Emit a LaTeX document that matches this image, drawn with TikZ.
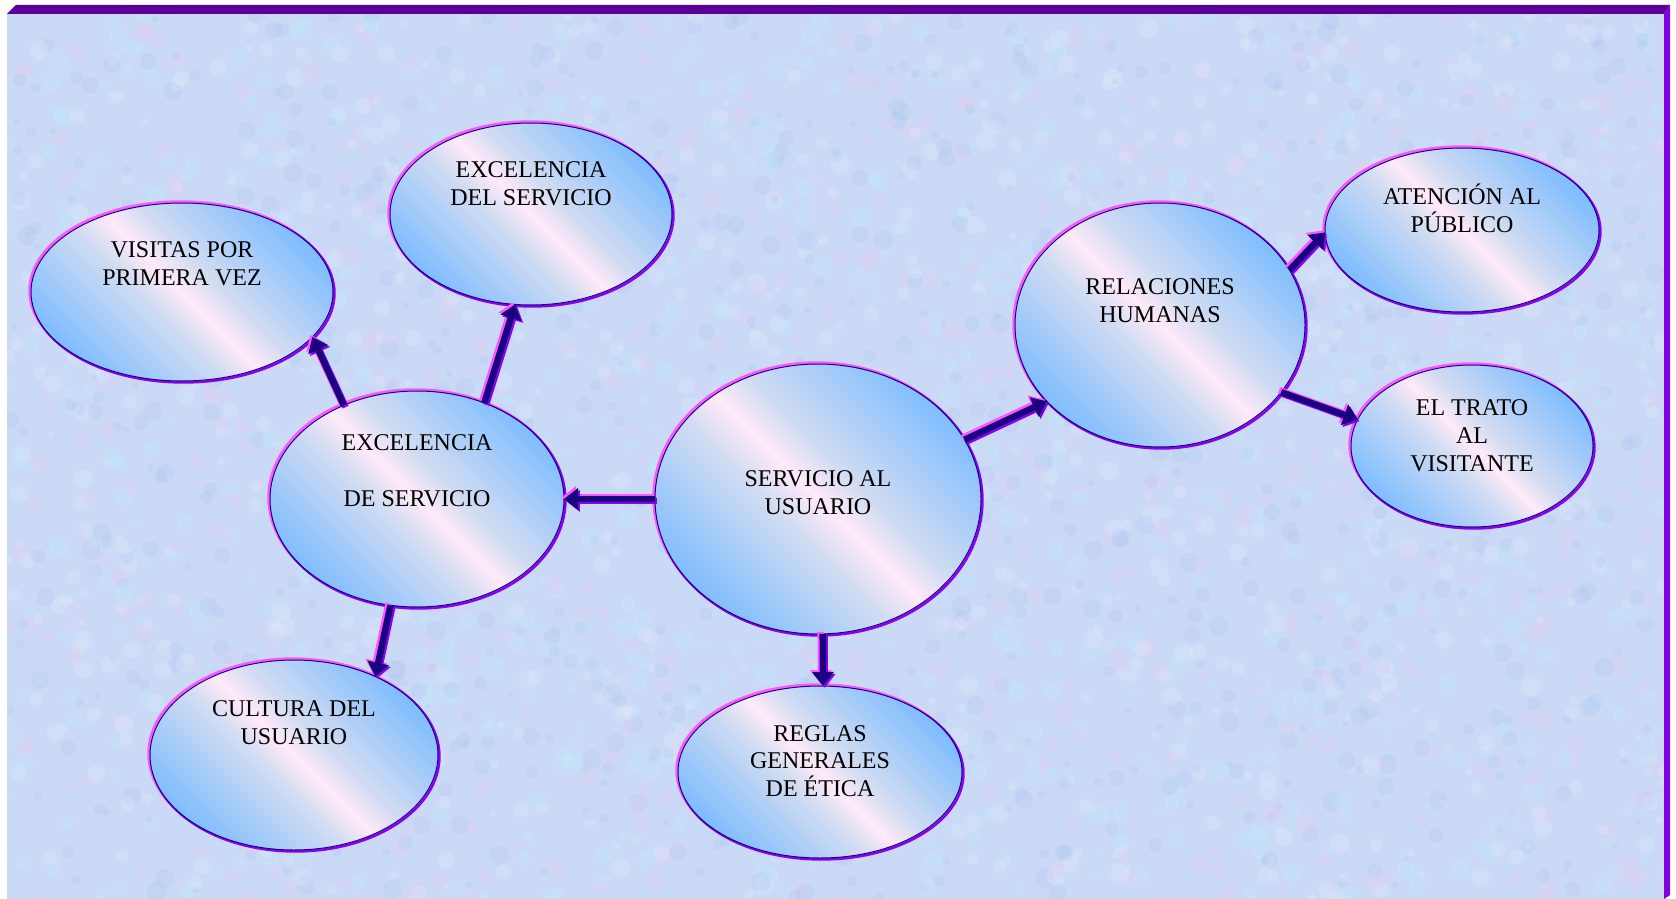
\documentclass[tikz,border=0pt]{standalone}
\usepackage{fontspec}
\setmainfont{Liberation Serif}
\usetikzlibrary{shapes.geometric,arrows.meta}

\definecolor{navyline}{HTML}{1A0080}
\definecolor{rimpink}{HTML}{FF55FF}
\definecolor{rimviolet}{HTML}{8A00F0}
\definecolor{ovalblue}{HTML}{7CBCFF}
\definecolor{ovalmist}{HTML}{D2DCF2}
\definecolor{ovalpink}{HTML}{FFEAF8}
\definecolor{paper}{HTML}{CAD9F6}
\definecolor{blobpink}{HTML}{E6CCF2}
\definecolor{blobcyan}{HTML}{C0EAFA}
\definecolor{blobblue}{HTML}{B0C8F2}
\definecolor{bloblight}{HTML}{E4EAFC}
\definecolor{topbar}{HTML}{5B0096}
\definecolor{sidebar}{HTML}{8200E0}

\pgfdeclarehorizontalshading{ovalshade}{100bp}{%
  color(0bp)=(ovalblue); color(24bp)=(ovalblue); color(44bp)=(ovalmist);
  color(50bp)=(ovalpink); color(56bp)=(ovalmist);
  color(76bp)=(ovalblue); color(100bp)=(ovalblue)}

\tikzset{
  oval/.style={ellipse, inner sep=0pt, outer sep=0pt, draw=navyline, line width=1pt,
    shading=ovalshade, shading angle=45,
    preaction={draw=rimpink, line width=2.6pt, transform canvas={shift={(-1.4pt,1.4pt)}}},
    preaction={draw=rimviolet, line width=2.6pt, transform canvas={shift={(1.4pt,-1.4pt)}}}},
  lbl/.style={align=center, inner sep=0pt, text=black,
    font=\fontsize{24}{27.8}\selectfont},
  link/.style={line width=6.5pt, draw=navyline, -{Triangle[length=14pt,width=21pt]},
    preaction={draw=rimpink, line width=6.5pt, -{Triangle[length=14pt,width=21pt]},
      transform canvas={shift={(-2pt,2pt)}}},
    preaction={draw=rimviolet, line width=6.5pt, -{Triangle[length=14pt,width=21pt]},
      transform canvas={shift={(1.8pt,-1.8pt)}}}}
}

\begin{document}
\begin{tikzpicture}[x=1pt,y=1pt]
\useasboundingbox (0,0) rectangle (1676,-899);
\fill[white] (0,0) rectangle (1676,-899);

% mottled paper background
\begin{scope}
  \clip (7,-14) rectangle (1664,-899);
  \fill[paper] (7,-14) rectangle (1664,-899);
  \pgfmathsetseed{42}
  \foreach \i in {1,...,3200}{
    \pgfmathsetmacro\px{7+1657*rnd}
    \pgfmathsetmacro\py{-14-885*rnd}
    \pgfmathsetmacro\pr{3+7*rnd}
    \pgfmathtruncatemacro\pc{4*rnd}
    \ifcase\pc \def\bc{blobpink}\or \def\bc{blobcyan}\or \def\bc{bloblight}\else \def\bc{blobblue}\fi
    \fill[\bc, opacity=0.3] (\px,\py) circle (\pr);
  }
\end{scope}

% frame bars
\fill[topbar] (7,-14) -- (16,-5) -- (1670,-5) -- (1664,-14) -- cycle;
\fill[sidebar] (1664,-14) -- (1670,-5) -- (1670,-895) -- (1664,-899) -- cycle;

% ovals
\node[oval, minimum width=326pt, minimum height=270pt] (srv) at (818,-499) {};
\node[oval, minimum width=294pt, minimum height=216pt] (exc) at (417,-499) {};
\node[oval, minimum width=282pt, minimum height=182pt] (exd) at (531,-214) {};
\node[oval, minimum width=302pt, minimum height=178pt] (vis) at (182,-292) {};
\node[oval, minimum width=288pt, minimum height=190pt] (cul) at (294,-755) {};
\node[oval, minimum width=284pt, minimum height=172pt] (reg) at (820,-772) {};
\node[oval, minimum width=290pt, minimum height=244pt] (rel) at (1160,-325) {};
\node[oval, minimum width=274pt, minimum height=164pt] (ate) at (1462,-230) {};
\node[oval, minimum width=242pt, minimum height=162pt] (tra) at (1472,-446) {};

% labels
\node[lbl] (tsrv) at (818,-493) {SERVICIO AL\\USUARIO};
\node[lbl] (texc) at (417,-471) {EXCELENCIA\\~\\DE SERVICIO};
\node[lbl] (texd) at (531,-184) {EXCELENCIA\\DEL SERVICIO};
\node[lbl] (tvis) at (182,-264) {VISITAS POR\\PRIMERA VEZ};
\node[lbl] (tcul) at (294,-723) {CULTURA DEL\\USUARIO};
\node[lbl] (treg) at (820,-761) {REGLAS\\GENERALES\\DE ÉTICA};
\node[lbl] (trel) at (1160,-301) {RELACIONES\\HUMANAS};
\node[lbl] (tate) at (1462,-208) {ATENCIÓN AL\\PÚBLICO};
\node[lbl] (ttra) at (1472,-436) {EL TRATO\\AL\\VISITANTE};

% connectors
\draw[link] (srv.180) -- (exc.0);
\draw[link] (exc.128) -- (vis.-19);
\draw[link] (exc.55) -- (exd.260);
\draw[link] (exc.256) -- (cul.44);
\draw[link] (srv.272) -- (reg.88);
\draw[link] (srv.22) -- (rel.214);
\draw[link] (rel.23) -- (ate.181);
\draw[link] (rel.-29) -- (tra.167);
\end{tikzpicture}
\end{document}
